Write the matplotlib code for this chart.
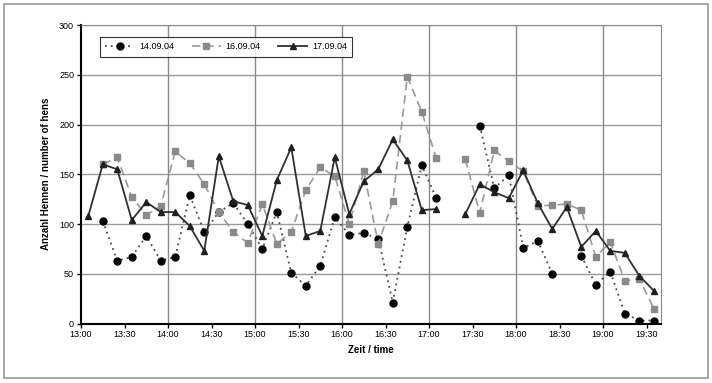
import numpy as np
import matplotlib
matplotlib.use("Agg")
import matplotlib.pyplot as plt
from matplotlib.patches import Rectangle

plt.rcParams['font.family'] = ['Liberation Sans', 'DejaVu Sans']

nan = np.nan
# 10-minute categories 13:00 ... 19:30
times = ["13:00", "13:10", "13:20", "13:30", "13:40", "13:50",
         "14:00", "14:10", "14:20", "14:30", "14:40", "14:50",
         "15:00", "15:10", "15:20", "15:30", "15:40", "15:50",
         "16:00", "16:10", "16:20", "16:30", "16:40", "16:50",
         "17:00", "17:10", "17:20", "17:30", "17:40", "17:50",
         "18:00", "18:10", "18:20", "18:30", "18:40", "18:50",
         "19:00", "19:10", "19:20", "19:30"]

s_14 = [nan, 103, 63, 67, 88, 63, 67, 129, 92, 112, 121, 100, 75, 112, 51, 38,
        58, 107, 89, 91, 85, 21, 97, 159, 126, nan, nan, 199, 136, 149,
        76, 83, 50, nan, 68, 39, 52, 10, 3, 3]
s_16 = [nan, 160, 167, 127, 109, 118, 173, 161, 140, 112, 92, 81, 120, 80, 92, 134,
        157, 148, 100, 153, 80, 123, 248, 213, 166, nan, 165, 111, 174, 163,
        153, 118, 119, 120, 114, 67, 82, 43, 45, 15]
s_17 = [108, 160, 155, 104, 122, 112, 112, 98, 73, 168, 123, 119, 88, 144, 177, 88,
        93, 167, 110, 143, 155, 185, 164, 114, 115, nan, 110, 140, 132, 126,
        154, 121, 95, 117, 77, 93, 73, 71, 48, 33]
series_labels = ["14.09.04", "16.09.04", "17.09.04"]
tick_labels = times[::3]

fig = plt.figure(figsize=(7.12, 3.83), dpi=100)
fig.patches.append(Rectangle((0.006, 0.012), 0.988, 0.978, transform=fig.transFigure,
                             fill=False, edgecolor='#9a9a9a', linewidth=1.2))
ax = fig.add_axes([0.1138, 0.1553, 0.8146, 0.7794])

x = np.arange(len(times))
ax.plot(x, s_14, color='#4a4a4a', linestyle=(0, (1, 2.2)), linewidth=1.3,
        marker='o', markersize=5, markerfacecolor='black', markeredgecolor='black',
        label=series_labels[0], zorder=3)
ax.plot(x, s_16, color='#9a9a9a', linestyle=(0, (5, 3)), linewidth=1.2,
        marker='s', markersize=4, markerfacecolor='#8a8a8a', markeredgecolor='#8a8a8a',
        label=series_labels[1], zorder=4)
ax.plot(x, s_17, color='#303030', linestyle='-', linewidth=1.3,
        marker='^', markersize=4, markerfacecolor='#202020', markeredgecolor='#202020',
        label=series_labels[2], zorder=5)

ax.set_xlim(-0.5, len(times) - 0.5)
ax.set_ylim(0, 300)
ax.set_yticks(np.arange(0, 301, 50))
ax.set_xticks(np.arange(0, len(times) + 1, 3) - 0.5)
ax.set_xticklabels(tick_labels)
ax.tick_params(axis='both', labelsize=6.5, length=3, width=1, color='black', pad=2)

for yv in range(50, 301, 50):
    ax.axhline(yv, color='#9a9a9a', linewidth=1.0, zorder=1)
for xv in np.arange(6, len(times), 6) - 0.5:
    ax.axvline(xv, color='#8a8a8a', linewidth=1.0, zorder=1)

ax.spines['left'].set_linewidth(1.5)
ax.spines['bottom'].set_linewidth(1.5)
ax.spines['top'].set_color('#8a8a8a')
ax.spines['right'].set_color('#8a8a8a')

ax.set_xlabel("Zeit / time", fontsize=7, fontweight='bold', labelpad=4)
ax.set_ylabel("Anzahl Hennen / number of hens", fontsize=7, fontweight='bold', labelpad=6)

leg = ax.legend(loc='upper left', bbox_to_anchor=(0.025, 0.975), ncol=3, fontsize=6.5,
                frameon=True, fancybox=False, edgecolor='black', handlelength=3.2,
                columnspacing=2.0, borderpad=0.6, handletextpad=0.5)
leg.get_frame().set_linewidth(0.8)

fig.savefig("out.png", dpi=100)
